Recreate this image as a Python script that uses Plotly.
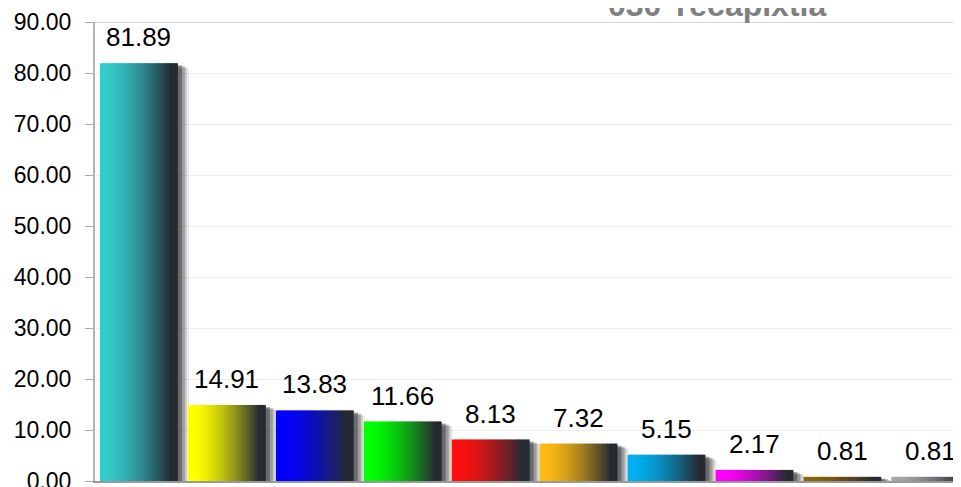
import plotly.graph_objects as go

titulo = "030 Yecapixtla"
valores = [81.89, 14.91, 13.83, 11.66, 8.13, 7.32, 5.15, 2.17, 0.81, 0.81]
colores = ["#33CCCC", "#FFFF00", "#0000FF", "#00FF00", "#FF1010",
           "#FDB913", "#00B0F0", "#FF00FF", "#8B6508", "#A6A6A6"]
oscuro = "#252A33"

x = list(range(len(valores)))
ancho = 0.886
n_tiras = 28
px_x = 1 / 88
px_y = 1 / 5.1


def hex_rgb(c):
    c = c.lstrip("#")
    return [int(c[i:i + 2], 16) for i in (0, 2, 4)]


def mezcla(c1, c2, t):
    a, b = hex_rgb(c1), hex_rgb(c2)
    return "rgb({},{},{})".format(*[round(a[i] + (b[i] - a[i]) * t) for i in range(3)])


fig = go.Figure()

# sombra difusa a la derecha/abajo de cada barra
for dx, dy, op in [(11, 5, 0.08), (9, 4, 0.14), (7, 3, 0.22), (4, 2, 0.32)]:
    fig.add_trace(go.Bar(
        x=x, y=[v - dy * px_y for v in valores], width=ancho, offset=-ancho / 2 + dx * px_x,
        marker=dict(color="black", opacity=op, line=dict(width=0)),
        hoverinfo="skip", showlegend=False))

# degradado horizontal: cada barra en tiras verticales solapadas
w = ancho / n_tiras
for k in range(n_tiras):
    t = k / (n_tiras - 1)
    t = min(1.0, max(0.0, (t - 0.05) / 0.88)) ** 1.5
    ancho_tira = w * 1.6 if k < n_tiras - 1 else w
    fig.add_trace(go.Bar(
        x=x, y=valores, width=ancho_tira, offset=-ancho / 2 + k * w,
        marker=dict(color=[mezcla(c, oscuro, t) for c in colores], line=dict(width=0)),
        hoverinfo="skip", showlegend=False))

for xi, v in zip(x, valores):
    fig.add_annotation(x=xi, y=v, text=f"{v:.2f}", showarrow=False,
                       yanchor="bottom", yshift=9,
                       font=dict(size=26, color="black", family="Arial, Liberation Sans"))

fig.add_annotation(xref="paper", yref="paper", x=0.712, y=1, text=f"<b>{titulo}</b>",
                   showarrow=False, xanchor="center", yanchor="bottom", yshift=-3,
                   font=dict(size=32, color="#808080", family="Arial, Liberation Sans"))

fig.add_shape(type="line", xref="paper", yref="y", x0=0, x1=1, y0=90, y1=90,
              line=dict(color="#d6d6d6", width=2))

# el body de la página añade 8 px arriba y a la izquierda
fig.update_layout(
    width=961, height=487,
    margin=dict(l=87, r=0, t=14, b=14, autoexpand=False),
    barmode="overlay",
    plot_bgcolor="white", paper_bgcolor="white",
    font=dict(family="Arial, Liberation Sans", color="black"),
    xaxis=dict(range=[-0.5, 9.44], showticklabels=False, showgrid=False, automargin=False,
               zeroline=False, showline=True, linecolor="#999999", linewidth=2, ticks=""),
    yaxis=dict(range=[0, 90], dtick=10, tickformat=".2f", ticks="outside", ticklen=8,
               tickcolor="#aaaaaa", showline=True, linecolor="#b3b3b3", linewidth=2,
               gridcolor="#eeeeee", zeroline=False, tickfont=dict(size=23),
               ticklabelstandoff=9, automargin=False),
)

fig.write_html("out.html")
